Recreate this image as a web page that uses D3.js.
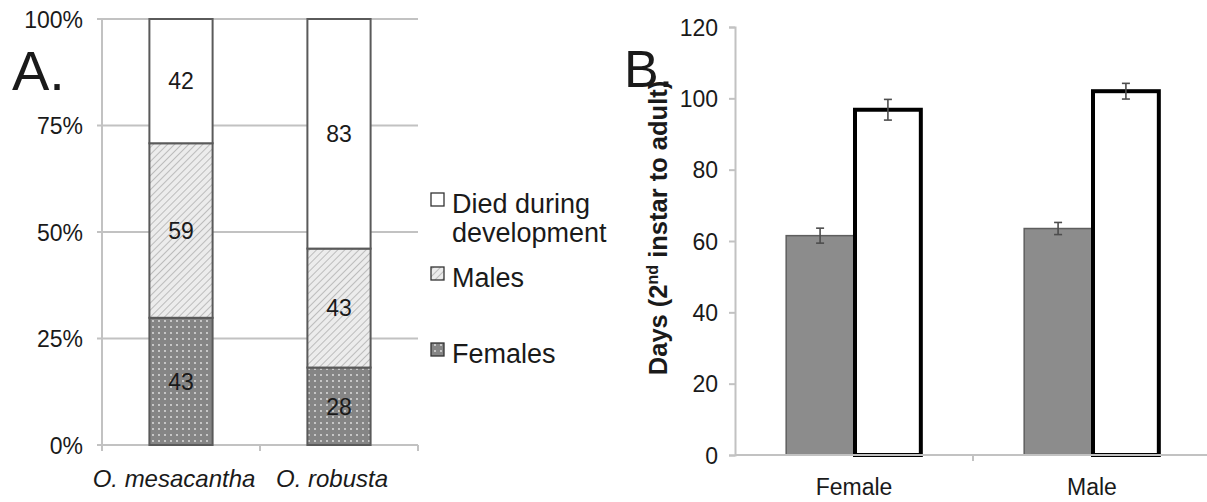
<!DOCTYPE html>
<html>
<head>
<meta charset="utf-8">
<script src="https://cdn.jsdelivr.net/npm/d3@7"></script>
<style>
  body { margin: 0; background: #fff; }
  text { font-family: "Liberation Sans", Arial, sans-serif; fill: #1a1a1a; }
</style>
</head>
<body>
<svg id="chart" width="1207" height="502"></svg>
<script>
// panel A - fate of nymphs (counts, drawn as % of total)
var speciesA = ["O. mesacantha", "O. robusta"];
var femalesA = [43, 28];
var malesA = [59, 43];
var diedA = [42, 83];
var ticksA = [0, 0.25, 0.5, 0.75, 1];

// panel B - days from 2nd instar to adult
var sexB = ["Female", "Male"];
var seriesB = ["O. mesacantha", "O. robusta"];
var meanB = [[61.5, 96.8], [63.5, 102.0]];
var errB = [[2.1, 2.9], [1.7, 2.2]];
var ticksB = [0, 20, 40, 60, 80, 100, 120];

var svg = d3.select("#chart");
var defs = svg.append("defs");

var dots = defs.append("pattern").attr("id", "dots")
    .attr("patternUnits", "userSpaceOnUse").attr("width", 6).attr("height", 6);
dots.append("rect").attr("width", 6).attr("height", 6).attr("fill", "#858585");
dots.append("circle").attr("cx", 3).attr("cy", 3).attr("r", 0.9).attr("fill", "#e6e6e6");

var hatch = defs.append("pattern").attr("id", "hatch")
    .attr("patternUnits", "userSpaceOnUse").attr("width", 5).attr("height", 5)
    .attr("patternTransform", "rotate(45)");
hatch.append("rect").attr("width", 5).attr("height", 5).attr("fill", "#ececec");
hatch.append("line").attr("x1", 0).attr("y1", 0).attr("x2", 0).attr("y2", 5)
    .attr("stroke", "#a8a8a8").attr("stroke-width", 1.4);

var gridCol = "#c2c2c2";

// ---------------- panel A ----------------
var xA = d3.scaleBand().domain(speciesA).range([102, 418])
    .paddingInner(0.6).paddingOuter(0.3);
var yA = d3.scaleLinear().domain([0, 1]).range([445, 19]);

var gA = svg.append("g");

gA.selectAll(".gridA").data(ticksA).enter().append("line")
    .attr("x1", 97).attr("x2", 418)
    .attr("y1", function(d){ return yA(d); })
    .attr("y2", function(d){ return yA(d); })
    .attr("stroke", gridCol).attr("stroke-width", 2);

gA.append("line").attr("x1", 102).attr("x2", 102)
    .attr("y1", yA(1)).attr("y2", yA(0))
    .attr("stroke", gridCol).attr("stroke-width", 2);

// category boundary ticks
var bounds = [102].concat(speciesA.map(function(d){
    return xA(d) + xA.bandwidth() + xA.step() * xA.paddingInner() / 2;
}));
gA.selectAll(".btick").data(bounds).enter().append("line")
    .attr("x1", function(d){ return d; }).attr("x2", function(d){ return d; })
    .attr("y1", yA(0)).attr("y2", yA(0) + 6)
    .attr("stroke", gridCol).attr("stroke-width", 2);

var yAxisA = d3.axisLeft(yA).tickValues(ticksA).tickSize(0).tickPadding(19)
    .tickFormat(function(d){ return Math.round(d * 100) + "%"; });
var gyA = gA.append("g").attr("transform", "translate(102,0)").call(yAxisA);
gyA.select(".domain").remove();
gyA.selectAll("text").style("font-size", "23px").attr("dy", "0.36em");

var stackData = speciesA.map(function(s, i){
    return { sp: s, Females: femalesA[i], Males: malesA[i], Died: diedA[i] };
});
var keys = ["Females", "Males", "Died"];
var fills = { Females: "url(#dots)", Males: "url(#hatch)", Died: "#fff" };
var stacked = d3.stack().keys(keys).offset(d3.stackOffsetExpand)(stackData);

stacked.forEach(function(layer){
    var k = layer.key;
    gA.selectAll(".seg-" + k).data(layer).enter().append("rect")
        .attr("x", function(d){ return xA(d.data.sp); })
        .attr("width", xA.bandwidth())
        .attr("y", function(d){ return yA(d[1]); })
        .attr("height", function(d){ return yA(d[0]) - yA(d[1]); })
        .attr("fill", fills[k])
        .attr("stroke", "#5a5a5a").attr("stroke-width", 2);
    gA.selectAll(".lab-" + k).data(layer).enter().append("text")
        .attr("x", function(d){ return xA(d.data.sp) + xA.bandwidth() / 2; })
        .attr("y", function(d){ return (yA(d[0]) + yA(d[1])) / 2; })
        .attr("dy", "0.36em")
        .attr("text-anchor", "middle")
        .style("font-size", "23px")
        .text(function(d){ return d.data[k]; });
});

gA.selectAll(".catA").data(speciesA).enter().append("text")
    .attr("x", function(d){ return xA(d) + xA.bandwidth() / 2 - 7; })
    .attr("y", 487)
    .attr("text-anchor", "middle")
    .style("font-size", "24px").style("font-style", "italic")
    .text(function(d){ return d; });

gA.append("text").attr("x", 12).attr("y", 90)
    .style("font-size", "56px").text("A.");

// legend
var legend = [
    { key: "Died", lines: ["Died during", "development"], y: 213 },
    { key: "Males", lines: ["Males"], y: 287 },
    { key: "Females", lines: ["Females"], y: 363 }
];
var lg = gA.selectAll(".leg").data(legend).enter().append("g");
lg.append("rect")
    .attr("x", 431).attr("y", function(d){ return d.y - 20; })
    .attr("width", 13).attr("height", 13)
    .attr("fill", function(d){ return fills[d.key]; })
    .attr("stroke", "#333").attr("stroke-width", 1.3);
lg.append("text")
    .attr("x", 452).attr("y", function(d){ return d.y; })
    .style("font-size", "27px")
    .selectAll("tspan").data(function(d){ return d.lines; }).enter().append("tspan")
    .attr("x", 452)
    .attr("dy", function(d, i){ return i ? 29 : 0; })
    .text(function(d){ return d; });

// ---------------- panel B ----------------
var xB = d3.scaleBand().domain(sexB).range([735, 1211])
    .paddingInner(0.43).paddingOuter(0.215);
var xB2 = d3.scaleBand().domain(seriesB).range([0, xB.bandwidth()]);
var yB = d3.scaleLinear().domain([0, 120]).range([455, 27]);

var gB = svg.append("g");

var yAxisB = d3.axisLeft(yB).tickValues(ticksB).tickSize(6).tickPadding(11);
var gyB = gB.append("g").attr("transform", "translate(735,0)").call(yAxisB);
gyB.select(".domain").attr("stroke", gridCol).attr("stroke-width", 2);
gyB.selectAll(".tick line").attr("stroke", gridCol).attr("stroke-width", 2);
gyB.selectAll("text").style("font-size", "23px").attr("dy", "0.36em");

var boundsB = sexB.map(function(d){
    return xB(d) + xB.bandwidth() + xB.step() * xB.paddingInner() / 2;
});
gB.selectAll(".btickB").data(boundsB).enter().append("line")
    .attr("x1", function(d){ return d; }).attr("x2", function(d){ return d; })
    .attr("y1", yB(0)).attr("y2", yB(0) + 6)
    .attr("stroke", gridCol).attr("stroke-width", 2);

var grp = gB.selectAll(".grp").data(sexB).enter().append("g")
    .attr("transform", function(d){ return "translate(" + xB(d) + ",0)"; });

grp.selectAll("rect").data(function(d, i){
        return seriesB.map(function(s, j){ return { s: s, v: meanB[i][j], e: errB[i][j], j: j }; });
    }).enter().append("rect")
    .attr("x", function(d){ return xB2(d.s) + (d.j ? 1 : 0); })
    .attr("width", function(d){ return xB2.bandwidth() - (d.j ? 2 : 0); })
    .attr("y", function(d){ return yB(d.v); })
    .attr("height", function(d){ return yB(0) - yB(d.v); })
    .attr("fill", function(d){ return d.j ? "#fff" : "#8c8c8c"; })
    .attr("stroke", function(d){ return d.j ? "#000" : "#5e5e5e"; })
    .attr("stroke-width", function(d){ return d.j ? 4 : 1.5; });

gB.append("line").attr("x1", 735).attr("x2", 1207)
    .attr("y1", yB(0)).attr("y2", yB(0))
    .attr("stroke", gridCol).attr("stroke-width", 2);

var eb = grp.selectAll(".eb").data(function(d, i){
        return seriesB.map(function(s, j){ return { s: s, v: meanB[i][j], e: errB[i][j] }; });
    }).enter().append("g").attr("stroke", "#4d4d4d").attr("stroke-width", 1.6);
eb.append("line")
    .attr("x1", function(d){ return xB2(d.s) + xB2.bandwidth() / 2; })
    .attr("x2", function(d){ return xB2(d.s) + xB2.bandwidth() / 2; })
    .attr("y1", function(d){ return yB(d.v + d.e); })
    .attr("y2", function(d){ return yB(d.v - d.e); });
[1, -1].forEach(function(sg){
    eb.append("line")
        .attr("x1", function(d){ return xB2(d.s) + xB2.bandwidth() / 2 - 4; })
        .attr("x2", function(d){ return xB2(d.s) + xB2.bandwidth() / 2 + 4; })
        .attr("y1", function(d){ return yB(d.v + sg * d.e); })
        .attr("y2", function(d){ return yB(d.v + sg * d.e); });
});

gB.selectAll(".catB").data(sexB).enter().append("text")
    .attr("x", function(d){ return xB(d) + xB.bandwidth() / 2; })
    .attr("y", 495)
    .attr("text-anchor", "middle")
    .style("font-size", "23px")
    .text(function(d){ return d; });

var ylab = gB.append("text")
    .attr("transform", "translate(667,228) rotate(-90)")
    .attr("text-anchor", "middle")
    .style("font-size", "25.5px").style("font-weight", "bold");
ylab.append("tspan").text("Days (2");
ylab.append("tspan").attr("dy", -9).style("font-size", "16px").text("nd");
ylab.append("tspan").attr("dy", 9).text(" instar to adult)");

gB.append("text").attr("x", 624).attr("y", 87)
    .style("font-size", "52px").text("B.");
</script>
</body>
</html>
